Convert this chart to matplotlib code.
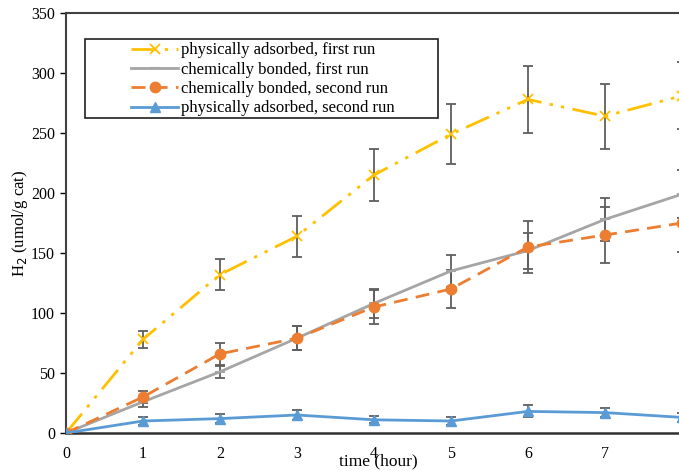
import matplotlib
matplotlib.use("Agg")
import matplotlib.pyplot as plt
from matplotlib.patches import Rectangle

hours = [0, 1, 2, 3, 4, 5, 6, 7, 8]
phys_first = [0, 78, 132, 164, 215, 249, 278, 264, 281]
phys_first_err = [0, 7, 13, 17, 22, 25, 28, 27, 28]
chem_first = [0, 26, 51, 79, 108, 135, 152, 178, 199]
chem_first_err = [0, 4, 5, 10, 12, 13, 15, 18, 20]
chem_second = [0, 30, 66, 79, 105, 120, 155, 165, 175]
chem_second_err = [0, 5, 9, 10, 14, 16, 22, 23, 24]
phys_second = [0, 10, 12, 15, 11, 10, 18, 17, 13]
phys_second_err = [0, 3, 4, 4, 3, 3, 5, 4, 4]

labels = ["physically adsorbed, first run", "chemically bonded, first run",
          "chemically bonded, second run", "physically adsorbed, second run"]
yticks = [0, 50, 100, 150, 200, 250, 300, 350]
xticks = [0, 1, 2, 3, 4, 5, 6, 7, 8]

plt.rcParams['font.family'] = ['Liberation Serif', 'DejaVu Serif']

W, H = 679, 471
fig = plt.figure(figsize=(W / 100, H / 100), dpi=100)
ax_left, ax_bottom, ax_w, ax_h = 66, 471 - 433, 639, 420
ax = fig.add_axes([ax_left / W, ax_bottom / H, ax_w / W, ax_h / H])

errc = '#5f5f5f'
series = [
    (phys_first, phys_first_err, dict(color='#FFC000', lw=2, ls=(0, (9, 3, 1.2, 3, 1.2, 3)),
                                      marker='x', ms=7, mew=1.3)),
    (chem_first, chem_first_err, dict(color='#A5A5A5', lw=2, ls='-', marker='_', ms=7, mew=1.5)),
    (chem_second, chem_second_err, dict(color='#ED7D31', lw=2, ls=(0, (5, 3)), marker='o', ms=7.5)),
    (phys_second, phys_second_err, dict(color='#5B9BD5', lw=2, ls='-', marker='^', ms=7)),
]
handles = []
for (vals, errs, st), lab in zip(series, labels):
    ax.errorbar(hours, vals, yerr=errs, fmt='none', ecolor=errc, elinewidth=1.3,
                capsize=3.5, capthick=1.3, zorder=2)
for (vals, errs, st), lab in zip(series, labels):
    h, = ax.plot(hours, vals, label=lab, zorder=3, **st)
    handles.append(h)

ax.set_xlim(0, 8.3)
ax.set_ylim(0, 350)
ax.set_xticks(xticks)
ax.set_yticks(yticks)
ax.tick_params(axis='x', length=0, pad=9, labelsize=11.5)
ax.tick_params(axis='y', length=4, width=1, pad=4, labelsize=11.5, direction='out')
for s in ['left', 'top']:
    ax.spines[s].set_color('#404040')
    ax.spines[s].set_linewidth(1.5)
ax.spines['bottom'].set_color('#303030')
ax.spines['bottom'].set_linewidth(1.8)
ax.spines['right'].set_visible(False)

ax.set_xlabel('time (hour)', fontsize=12.5)
ax.xaxis.set_label_coords((378 - 66) / 639, -0.048)
ax.set_ylabel('H$_2$ (umol/g cat)', fontsize=12)
ax.yaxis.set_label_coords(-0.056, 0.5)

# legend box
ax.add_patch(Rectangle(((85 - 66) / ax_w, (433 - 118) / ax_h), (438 - 85) / ax_w, (118 - 39) / ax_h,
                       transform=ax.transAxes, fill=False, edgecolor='#202020', lw=1.2,
                       zorder=5, clip_on=False))
leg = ax.legend(handles=handles, loc='upper left',
                bbox_to_anchor=((128 - 66) / ax_w, (433 - 39) / ax_h),
                frameon=False, borderpad=0.2, handlelength=2.8, handletextpad=0.2,
                labelspacing=0.2, numpoints=1, fontsize=12, borderaxespad=0)

fig.savefig('out.png', dpi=100)
